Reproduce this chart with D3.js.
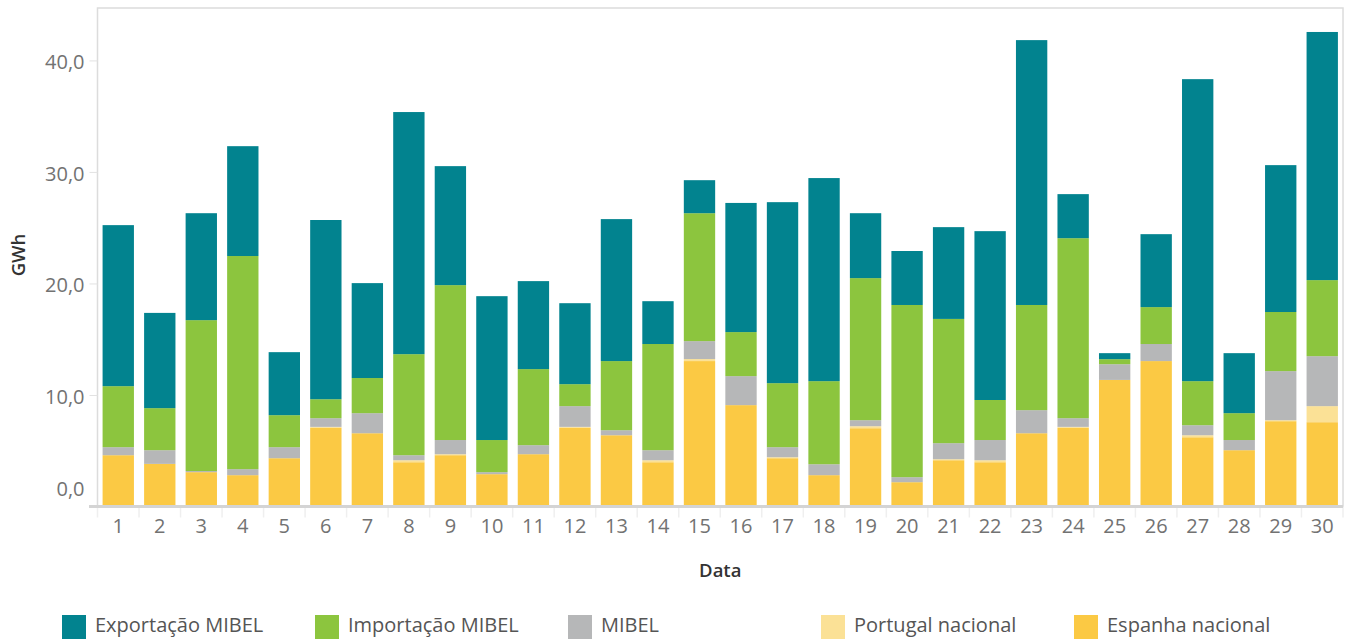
<!DOCTYPE html>
<html>
<head>
<meta charset="utf-8">
<script src="https://cdn.jsdelivr.net/npm/d3@7"></script>
<style>
  html, body { margin: 0; padding: 0; background: #fff; }
  svg { display: block; }
  text { font-family: "Open Sans", "Noto Sans", sans-serif; }
</style>
</head>
<body>
<svg id="chart" width="1349" height="639"></svg>
<script>
// Daily energy (GWh) by market segment, days 1–30
const days = d3.range(1, 31).map(String);

const espanhaNacional = [4.60, 3.82, 3.08, 2.81, 4.33, 7.05, 6.57, 3.97, 4.60, 2.90,
                         4.69, 7.05, 6.39, 3.97, 13.04, 9.09, 4.33, 2.81, 7.02, 2.18,
                         4.15, 3.97, 6.57, 7.05, 11.35, 13.04, 6.21, 5.05, 7.65, 7.56];
const portugalNacional = [0, 0, 0, 0, 0, 0.09, 0, 0.18, 0.09, 0,
                          0, 0.09, 0, 0.18, 0.18, 0, 0.09, 0, 0.18, 0,
                          0.09, 0.18, 0, 0.09, 0, 0, 0.18, 0, 0.09, 1.44];
const mibel = [0.72, 1.23, 0.10, 0.54, 0.99, 0.78, 1.80, 0.45, 1.27, 0.18,
               0.81, 1.86, 0.45, 0.90, 1.61, 2.60, 0.90, 0.98, 0.54, 0.45,
               1.44, 1.81, 2.07, 0.78, 1.41, 1.53, 0.90, 0.91, 4.40, 4.48];
const importacaoMibel = [5.47, 3.77, 13.53, 19.11, 2.87, 1.70, 3.15, 9.06, 13.89, 2.88,
                         6.82, 1.97, 6.20, 9.52, 11.47, 3.95, 5.74, 7.45, 12.74, 15.44,
                         11.14, 3.59, 9.43, 16.14, 0.45, 3.31, 3.95, 2.41, 5.30, 6.82];
const exportacaoMibel = [14.44, 8.54, 9.59, 9.85, 5.65, 16.07, 8.51, 21.71, 10.67, 12.90,
                         7.89, 7.26, 12.73, 3.84, 2.96, 11.58, 16.23, 18.21, 5.82, 4.84,
                         8.23, 15.14, 23.75, 3.95, 0.54, 6.54, 27.08, 5.38, 13.17, 22.25];

const yTicks = [0, 10, 20, 30, 40];

// Stack order from the baseline upward
const series = [
  { key: "Espanha nacional",   values: espanhaNacional,  color: "#fbc944" },
  { key: "Portugal nacional",  values: portugalNacional, color: "#fbe196" },
  { key: "MIBEL",              values: mibel,            color: "#b6b7b8" },
  { key: "Importação MIBEL",   values: importacaoMibel,  color: "#8cc53e" },
  { key: "Exportação MIBEL",   values: exportacaoMibel,  color: "#02838f" }
];
// Legend order
const legendOrder = ["Exportação MIBEL", "Importação MIBEL", "MIBEL", "Portugal nacional", "Espanha nacional"];

const rows = days.map((d, i) => {
  const r = { day: d };
  series.forEach(s => { r[s.key] = s.values[i]; });
  return r;
});
const stacked = d3.stack().keys(series.map(s => s.key))(rows);
const colorOf = new Map(series.map(s => [s.key, s.color]));

const svg = d3.select("#chart");
const plot = { left: 97.5, right: 1343, top: 8, bottom: 506.5 };

const x = d3.scaleBand().domain(days).range([plot.left, plot.right]).paddingInner(0.245).paddingOuter(0.1225);
const y = d3.scaleLinear().domain([0, 44.7]).range([plot.bottom, plot.top]);

// Frame of the plot area
svg.append("rect")
  .attr("x", plot.left).attr("y", plot.top)
  .attr("width", plot.right - plot.left).attr("height", plot.bottom - plot.top)
  .attr("fill", "none").attr("stroke", "#dcdcdc").attr("stroke-width", 1.5);

// Bars
svg.append("g").selectAll("g")
  .data(stacked)
  .join("g")
  .attr("fill", d => colorOf.get(d.key))
  .selectAll("rect")
  .data(d => d)
  .join("rect")
  .attr("x", d => x(d.data.day))
  .attr("width", x.bandwidth())
  .attr("y", d => y(d[1]))
  .attr("height", d => Math.max(0, y(d[0]) - y(d[1])));

// Y axis
const yAxis = svg.append("g")
  .attr("transform", `translate(${plot.left},0)`)
  .call(d3.axisLeft(y).tickValues(yTicks).tickSize(8).tickPadding(5)
    .tickFormat(d => d3.format(".1f")(d).replace(".", ",")));
yAxis.select(".domain").remove();
yAxis.selectAll(".tick line").attr("stroke", "#e2e2e2").attr("stroke-width", 1);
yAxis.selectAll(".tick text")
  .attr("fill", "#727272").attr("font-size", 20)
  .attr("dy", d => d === 0 ? "-0.55em" : "0.42em");

// X axis with band separators
const xAxis = svg.append("g")
  .attr("transform", `translate(0,${plot.bottom})`)
  .call(d3.axisBottom(x).tickSize(0).tickPadding(12));
xAxis.select(".domain").remove();
xAxis.selectAll(".tick text").attr("fill", "#727272").attr("font-size", 20);
svg.append("g").selectAll("line")
  .data(d3.range(days.length + 1))
  .join("line")
  .attr("x1", i => plot.left + i * (plot.right - plot.left) / days.length)
  .attr("x2", i => plot.left + i * (plot.right - plot.left) / days.length)
  .attr("y1", plot.bottom).attr("y2", plot.bottom + 11)
  .attr("stroke", "#efefef").attr("stroke-width", 1.5);

// Baseline
svg.append("line")
  .attr("x1", 89).attr("x2", plot.right)
  .attr("y1", plot.bottom).attr("y2", plot.bottom)
  .attr("stroke", "#d4d4d4").attr("stroke-width", 3);

// Axis titles
svg.append("text")
  .attr("transform", "translate(25,255) rotate(-90)")
  .attr("text-anchor", "middle")
  .attr("font-size", 18.5).attr("font-weight", 600).attr("fill", "#333")
  .text("GWh");
svg.append("text")
  .attr("x", (plot.left + plot.right) / 2).attr("y", 577)
  .attr("text-anchor", "middle")
  .attr("font-size", 18.5).attr("font-weight", 600).attr("fill", "#333")
  .text("Data");

// Legend
const legend = svg.append("g").selectAll("g")
  .data(legendOrder)
  .join("g")
  .attr("transform", (d, i) => `translate(${62 + i * 253},615)`);
legend.append("rect")
  .attr("width", 24).attr("height", 24)
  .attr("fill", d => colorOf.get(d));
legend.append("text")
  .attr("x", 33).attr("y", 17)
  .attr("font-size", 20).attr("fill", "#555")
  .text(d => d);
</script>
</body>
</html>
